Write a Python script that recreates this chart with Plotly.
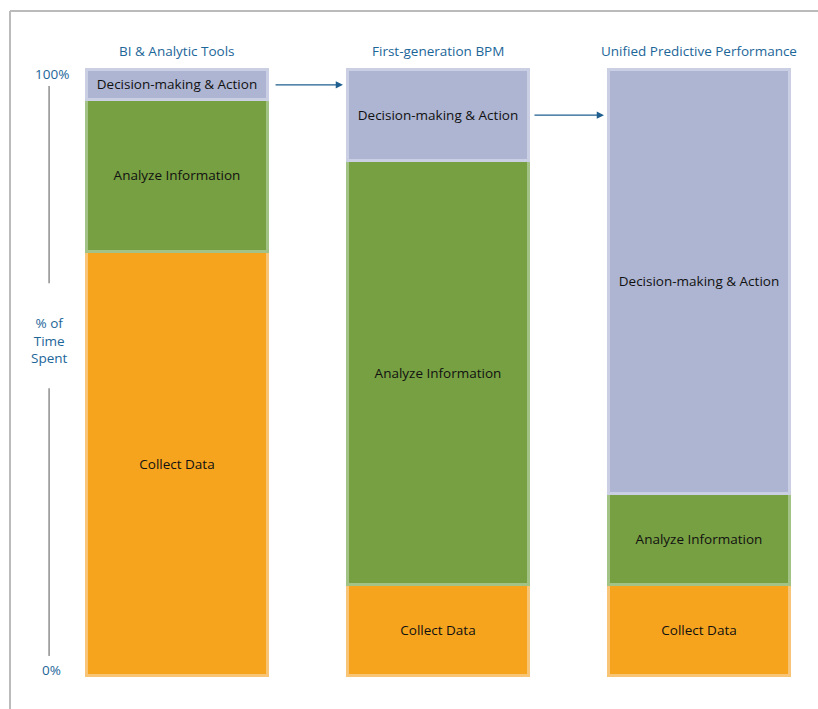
import plotly.graph_objects as go

categories = ["BI & Analytic Tools", "First-generation BPM", "Unified Predictive Performance"]
collect = [70, 15, 15]
analyze = [25, 70, 15]
decision = [5, 15, 70]
tick_labels = ["100%", "0%"]
axis_title = "% of<br>Time<br>Spent"

xs = [0, 1, 2]
FONT = "Open Sans"
BLUE = "#1C6699"
FS = 13.5

fig = go.Figure()
series = [
    ("Collect Data", collect, "#F6A41E", "#F8C577"),
    ("Analyze Information", analyze, "#77A042", "#A3C386"),
    ("Decision-making & Action", decision, "#AEB5D2", "#CBCFE3"),
]
for name, vals, fill, edge in series:
    fig.add_trace(go.Bar(
        x=xs, y=vals, name=name, width=0.69,
        marker=dict(color=fill, line=dict(color=edge, width=3)),
        text=[name] * len(vals), textposition="inside",
        insidetextanchor="middle", textangle=0, constraintext="none",
        textfont=dict(family=FONT, size=FS, color="#111111"),
        hoverinfo="skip",
    ))

annotations = []
for x, c in zip(xs, categories):
    annotations.append(dict(x=x, y=103.0, xref="x", yref="y", text=c, showarrow=False,
                            font=dict(family=FONT, size=FS, color=BLUE)))
annotations.append(dict(x=-0.48, y=99.1, xref="x", yref="y", text=tick_labels[0], showarrow=False,
                        font=dict(family=FONT, size=FS, color=BLUE)))
annotations.append(dict(x=-0.48, y=1.0, xref="x", yref="y", text=tick_labels[1], showarrow=False,
                        font=dict(family=FONT, size=FS, color=BLUE)))
annotations.append(dict(x=-0.49, y=55.3, xref="x", yref="y", text=axis_title, showarrow=False,
                        font=dict(family=FONT, size=FS, color=BLUE)))
# flow arrows
for (x0, x1, y) in [(0.372, 0.636, 97.4), (1.364, 1.636, 92.4)]:
    annotations.append(dict(x=x1, y=y, ax=x0, ay=y, xref="x", yref="y", axref="x", ayref="y",
                            text="", showarrow=True, arrowhead=2, arrowsize=1.2, arrowwidth=1.2,
                            arrowcolor="#1F5F8F", standoff=0))

shapes = [
    dict(type="line", xref="x", yref="y", x0=-0.49, x1=-0.49, y0=97.2, y1=64.7,
         line=dict(color="#555555", width=1)),
    dict(type="line", xref="x", yref="y", x0=-0.49, x1=-0.49, y0=47.4, y1=3.3,
         line=dict(color="#555555", width=1)),
    dict(type="line", xref="paper", yref="paper", x0=10/818, x1=10/818, y0=0, y1=1 - 11/709,
         line=dict(color="#BBBBBB", width=2)),
    dict(type="line", xref="paper", yref="paper", x0=10/818, x1=1, y0=1 - 11/709, y1=1 - 11/709,
         line=dict(color="#BBBBBB", width=2)),
]

fig.update_layout(
    barmode="stack", width=818, height=709,
    margin=dict(l=0, r=0, t=0, b=0),
    paper_bgcolor="white", plot_bgcolor="white",
    showlegend=False,
    xaxis=dict(range=[-0.678, 2.456], visible=False, fixedrange=True),
    yaxis=dict(range=[-5.44, 111.37], visible=False, fixedrange=True),
    annotations=annotations, shapes=shapes,
)
fig.write_html("out.html", config={"displayModeBar": False},
               post_script="document.body.style.margin='0px';document.body.style.overflow='hidden';")
